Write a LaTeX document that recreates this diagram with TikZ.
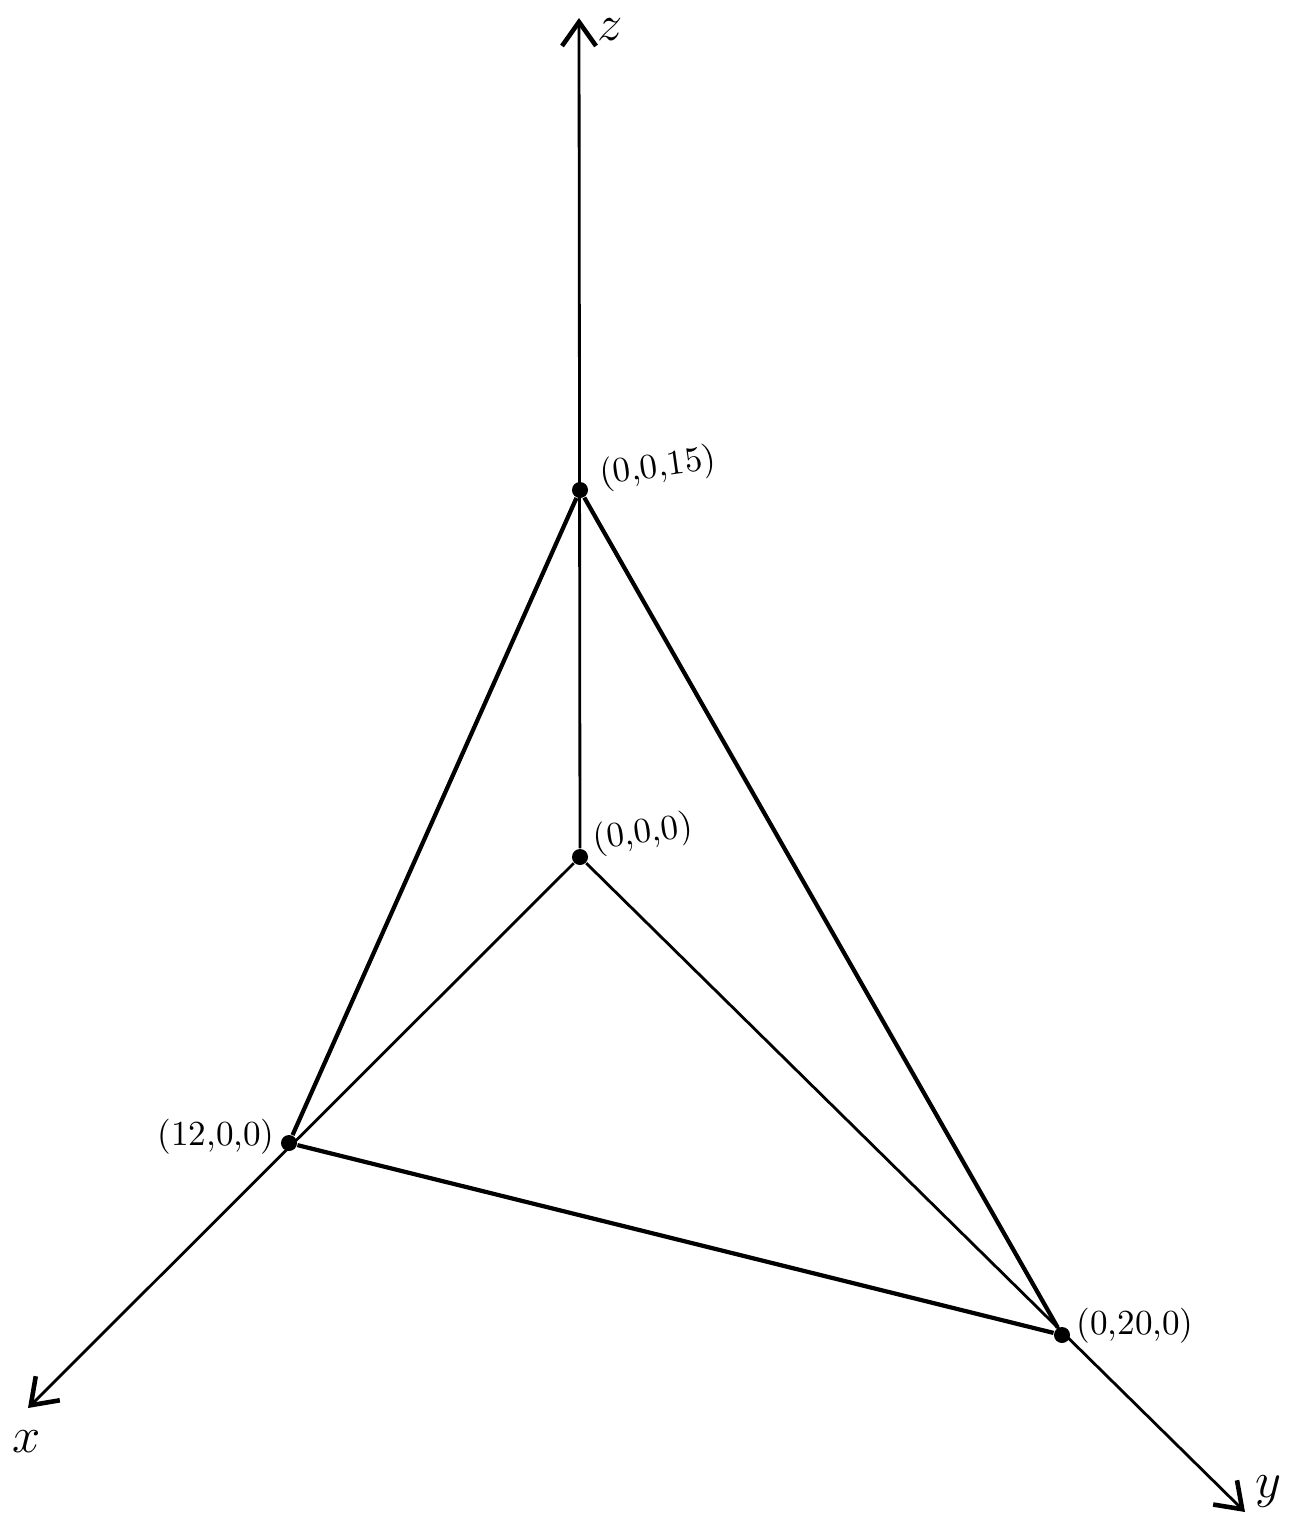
\documentclass[tikz,border=0pt]{standalone}
\usetikzlibrary{arrows.meta}
\begin{document}
\begin{tikzpicture}[x=0.01cm,y=-0.01cm]
\tikzset{
  vertex/.style={circle,fill,inner sep=0pt,minimum size=1.6mm},
  axisline/.style={-{Straight Barb[length=2.4mm,width=3.4mm,line width=1.3pt]},line width=0.8pt},
  edge/.style={line width=1.2pt},
  ptlabel/.style={font=\normalsize,inner sep=1pt},
  axislabel/.style={font=\Large,inner sep=1pt}
}
\useasboundingbox (0,0) rectangle (1298,1529);
\node[vertex] (n_O) at (580,857) {};
\node[vertex] (n_Z) at (580,490) {};
\node[vertex] (n_X) at (289,1143) {};
\node[vertex] (n_Y) at (1062,1335) {};
\coordinate (z_end) at (579,18);
\coordinate (x_end) at (28,1408);
\coordinate (y_end) at (1245,1512);
\draw[axisline] (n_O) -- (z_end);
\draw[axisline] (n_O) -- (x_end);
\draw[axisline] (n_O) -- (y_end);
\draw[edge] (n_Z) -- (n_X);
\draw[edge] (n_Z) -- (n_Y);
\draw[edge] (n_X) -- (n_Y);
\node[axislabel] (l_z) at (610,30) {$z$};
\node[axislabel] (l_x) at (27,1442) {$x$};
\node[axislabel] (l_y) at (1268,1492) {$y$};
\node[ptlabel,rotate=8] (l_Z) at (658,468) {(0,0,15)};
\node[ptlabel,rotate=8] (l_O) at (643,834) {(0,0,0)};
\node[ptlabel] (l_X) at (216,1137) {(12,0,0)};
\node[ptlabel] (l_Y) at (1135,1326) {(0,20,0)};
\end{tikzpicture}
\end{document}
